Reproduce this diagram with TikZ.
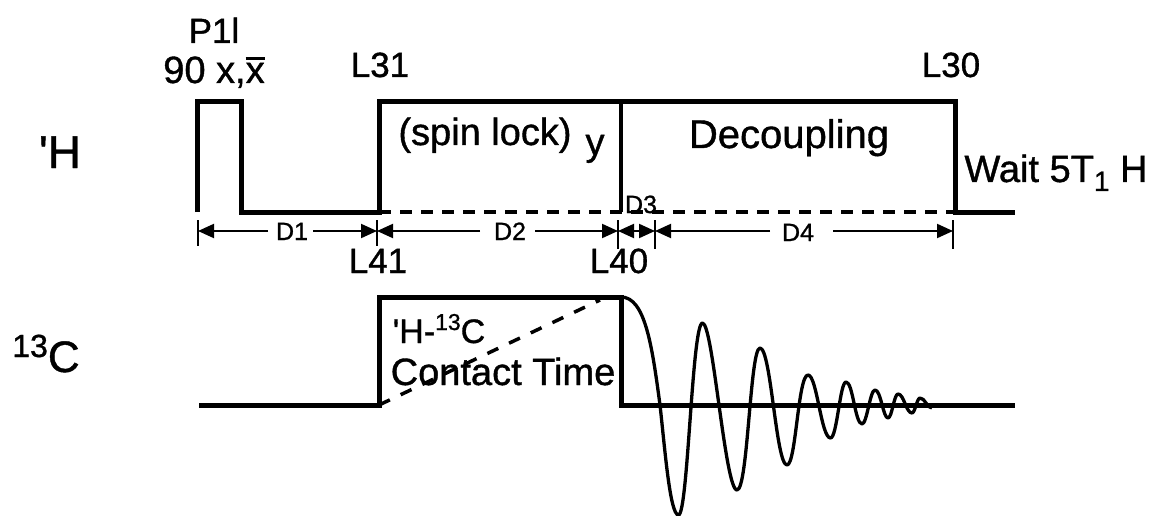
\documentclass[tikz,border=0pt]{standalone}
\usepackage{fontspec}
\setmainfont{Liberation Sans}[RawFeature={embolden=1.0}]
\usetikzlibrary{arrows.meta}
\newcommand{\fs}[1]{\fontsize{#1}{#1}\selectfont}
\tikzset{
  x=1pt,y=-1pt,
  pulse/.style={line width=5pt,line cap=butt,line join=miter},
  dashline/.style={line width=4pt,dash pattern=on 12pt off 9pt},
  dashlineb/.style={line width=3.5pt,dash pattern=on 12pt off 12pt},
  fid/.style={line width=3.3pt,line join=round},
  dimr/.style={line width=2pt,-{Triangle[length=16pt,width=14pt]}},
  tick/.style={line width=2pt},
  big/.style={inner sep=0pt,anchor=base,font=\fs{35}},
  txt/.style={inner sep=0pt,anchor=base,font=\fs{38}},
  mid/.style={inner sep=0pt,anchor=base,font=\fs{25}},
}
\begin{document}
\begin{tikzpicture}
\useasboundingbox (0,0) rectangle (1149,516);
% 1H channel
\coordinate (h0) at (197,212);
\coordinate (h1) at (197,102);
\coordinate (h2) at (241,102);
\coordinate (h3) at (241,212);
\coordinate (h4) at (379,212);
\coordinate (h5) at (379,102);
\coordinate (h6) at (955,102);
\coordinate (h7) at (955,212);
\coordinate (h8) at (1015,212);
\coordinate (h9) at (621,102);
\coordinate (h10) at (621,212);
\draw[pulse] (h0) -- (h1) -- (h2) -- (h3) -- (h4) -- (h5) -- (h6) -- (h7) -- (h8);
\draw[pulse,line width=4.5pt] (h9) -- (h10);
\draw[dashline] (h4) -- (h7);
% 13C channel
\coordinate (c0) at (199,405);
\coordinate (c1) at (379,405);
\coordinate (c2) at (379,297);
\coordinate (c3) at (621,297);
\coordinate (c4) at (621,405);
\coordinate (c5) at (1015,405);
\coordinate (c6) at (600,300);
\draw[pulse] (c0) -- (c1) -- (c2) -- (c3) -- (c4) -- (c5);
\draw[dashlineb] (c1) -- (c6);
% FID
\draw[fid] (c3)
 .. controls (645,297) and (652,345) .. (660,405)
 .. controls (665,450) and (670,515) .. (678.5,515)
 .. controls (688,515) and (692,323) .. (702.5,323)
 .. controls (713,323) and (725,490) .. (737,490)
 .. controls (748,490) and (750,348) .. (760,348)
 .. controls (771,348) and (776,465) .. (787,465)
 .. controls (796,465) and (798,375) .. (808,375)
 .. controls (817,375) and (821,438) .. (830.5,438)
 .. controls (837,438) and (840,382) .. (846,382)
 .. controls (853,382) and (855,424) .. (862,424)
 .. controls (867,424) and (870,390) .. (875,390)
 .. controls (881,390) and (883,418) .. (888,418)
 .. controls (892,418) and (894,394) .. (898,394)
 .. controls (904,394) and (906,413) .. (912,413)
 .. controls (915,413) and (917,398) .. (920,398)
 .. controls (925,398) and (927,408) .. (932,408);
% dimension ticks
\foreach \n/\x/\a/\b in {ta/198/220/246,tb/377/220/246,tc/618/220/249,td/655/220/249,te/953/220/249}{
  \coordinate (\n1) at (\x,\a);
  \coordinate (\n2) at (\x,\b);
  \draw[tick] (\n1) -- (\n2);
}
\coordinate (ta) at (198,231);
\coordinate (tb) at (377,231);
\coordinate (tc) at (618,231);
\coordinate (td) at (655,231);
\coordinate (te) at (953,231);
\coordinate (g1a) at (268,231);
\coordinate (g1b) at (313,231);
\coordinate (g2a) at (480,231);
\coordinate (g2b) at (535,231);
\coordinate (g4a) at (770,231);
\coordinate (g4b) at (833,231);
\coordinate (g3a) at (640,231);
\coordinate (g3b) at (633,231);
\draw[dimr] (g1a) -- (ta);
\draw[dimr] (g1b) -- (tb);
\draw[dimr] (g2a) -- (tb);
\draw[dimr] (g2b) -- (tc);
\draw[dimr] (g3a) -- (tc);
\draw[dimr] (g3b) -- (td);
\draw[dimr] (g4a) -- (td);
\draw[dimr] (g4b) -- (te);
% labels
\node[big] (p1l) at (214,43) {P1l};
\node[txt] (ninety) at (214,83) {90 x,\rlap{\raisebox{23pt}{\rule{19pt}{2.5pt}}}x};
\node[big] (l31) at (380,77) {L31};
\node[big] (l30) at (951,77) {L30};
\node[big] (l41) at (378,273) {L41};
\node[big] (l40) at (619,273) {L40};
\node[txt] (spin) at (485,145) {(spin lock)};
\node[txt] (y) at (595,155) {y};
\node[txt,font=\fs{40}] (dec) at (789,148) {Decoupling};
\node[txt] (wait) at (1056,182) {Wait 5T\raisebox{-9pt}{\fs{28}1} H};
\node[mid] (d1) at (292,240) {D1};
\node[mid] (d2) at (510,240) {D2};
\node[mid] (d3) at (641,213) {D3};
\node[mid] (d4) at (798,241) {D4};
\node[txt,font=\fs{46}] (hh) at (60,168) {\textquotesingle H};
\node[txt,font=\fs{44}] (cc) at (46,372) {\raisebox{15pt}{\fs{32}13}C};
\node[txt,font=\fs{34}] (hc) at (439,343) {\textquotesingle H-\raisebox{13pt}{\fs{23}13}C};
\node[txt] (ct) at (503,385) {Contact Time};
\end{tikzpicture}
\end{document}
